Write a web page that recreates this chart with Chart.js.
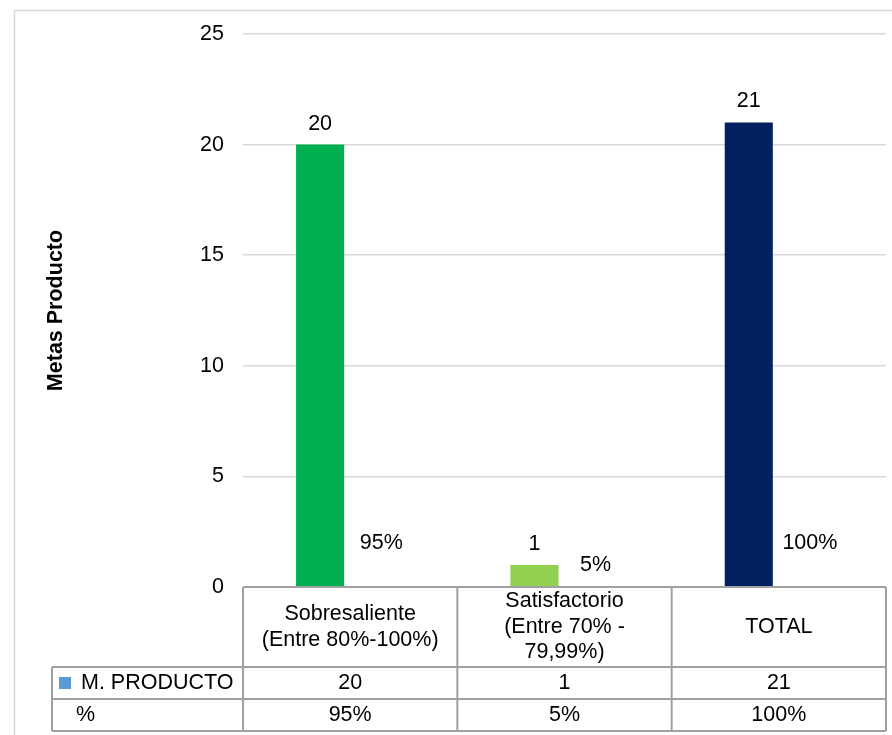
<!DOCTYPE html>
<html>
<head>
<meta charset="utf-8">
<script src="https://cdn.jsdelivr.net/npm/chart.js@4/dist/chart.umd.min.js"></script>
<style>
html,body{margin:0;padding:0;background:#fff;}
#wrap{position:relative;width:892px;height:735px;}
</style>
</head>
<body>
<div id="wrap"><canvas id="c" width="892" height="735"></canvas></div>
<script>
const categories = [["Sobresaliente", "(Entre 80%-100%)"], ["Satisfactorio", "(Entre 70% -", "79,99%)"], ["TOTAL"]];
const counts = [20, 1, 21];
const percents = [0.95, 0.05, 1];
const percentLabels = ["95%", "5%", "100%"];
const barColors = ["#00B050", "#92D050", "#002060"];
const yTicks = [0, 5, 10, 15, 20, 25];
const seriesName = "M. PRODUCTO";
const percentRowName = "%";
const yTitle = "Metas Producto";

const FONT = "Arial, 'Liberation Sans', sans-serif";
const FS = 21.5;
const LINE = "#A0A0A0";

const tablePlugin = {
  id: 'tablePlugin',
  beforeDraw(chart) {
    const ctx = chart.ctx;
    ctx.save();
    ctx.strokeStyle = "#D9D9D9";
    ctx.lineWidth = 1.5;
    ctx.beginPath();
    ctx.moveTo(14.5, 740);
    ctx.lineTo(14.5, 10.5);
    ctx.lineTo(900, 10.5);
    ctx.stroke();
    ctx.restore();
  },
  afterDraw(chart) {
    const ctx = chart.ctx;
    const y = chart.scales.y;
    const area = chart.chartArea;
    const n = categories.length;
    const colW = (area.right - area.left) / n;
    const top = y.getPixelForValue(0);
    const r1 = top + 80, r2 = r1 + 32, r3 = r2 + 32;
    const legLeft = 52;
    ctx.save();
    ctx.fillStyle = "#000";
    ctx.font = FS + "px " + FONT;
    ctx.textAlign = "center";
    ctx.textBaseline = "middle";
    const m0 = chart.getDatasetMeta(0), m1 = chart.getDatasetMeta(1);
    for (let i = 0; i < n; i++) {
      const b = m0.data[i];
      ctx.fillText(String(counts[i]), b.x, b.y - 21);
      const b2 = m1.data[i];
      const ly = Math.max(y.getPixelForValue(counts[i]), y.getPixelForValue(2));
      ctx.fillText(percentLabels[i], b2.x + 1, ly);
    }
    ctx.strokeStyle = LINE;
    ctx.lineWidth = 2;
    ctx.beginPath();
    ctx.moveTo(area.left, top); ctx.lineTo(area.right, top);
    ctx.moveTo(legLeft, r1); ctx.lineTo(area.right, r1);
    ctx.moveTo(legLeft, r2); ctx.lineTo(area.right, r2);
    ctx.moveTo(legLeft, r3); ctx.lineTo(area.right, r3);
    ctx.moveTo(legLeft, r1); ctx.lineTo(legLeft, r3);
    for (let i = 0; i <= n; i++) {
      const xx = area.left + i * colW;
      ctx.moveTo(xx, top); ctx.lineTo(xx, r3);
    }
    ctx.stroke();
    ctx.fillStyle = "#000";
    for (let i = 0; i < n; i++) {
      const cx = area.left + (i + 0.5) * colW;
      const lines = categories[i];
      const lh = 25.5;
      const cy = (top + r1) / 2;
      const start = cy - (lines.length - 1) * lh / 2;
      lines.forEach((t, k) => ctx.fillText(t, cx, start + k * lh));
      ctx.fillText(String(counts[i]), cx, (r1 + r2) / 2);
      ctx.fillText(percentLabels[i], cx, (r2 + r3) / 2);
    }
    ctx.fillStyle = "#5B9BD5";
    ctx.fillRect(59, (r1 + r2) / 2 - 6, 12, 12);
    ctx.fillStyle = "#000";
    ctx.textAlign = "left";
    ctx.fillText(seriesName, 81, (r1 + r2) / 2);
    ctx.fillText(percentRowName, 76, (r2 + r3) / 2);
    ctx.font = "bold " + FS + "px " + FONT;
    ctx.translate(56, (area.top + area.bottom) / 2);
    ctx.rotate(-Math.PI / 2);
    ctx.textAlign = "center";
    ctx.fillText(yTitle, 0, 0);
    ctx.restore();
  }
};

new Chart(document.getElementById('c'), {
  type: 'bar',
  data: {
    labels: categories.map(c => c.join(' ')),
    datasets: [
      { label: seriesName, data: counts, backgroundColor: barColors,
        categoryPercentage: 0.561, barPercentage: 0.8 },
      { label: percentRowName, data: percents, backgroundColor: 'rgba(0,0,0,0)',
        categoryPercentage: 0.561, barPercentage: 0.8 }
    ]
  },
  options: {
    responsive: false,
    animation: false,
    devicePixelRatio: 1,
    layout: { padding: { left: 0, right: 6, top: 34, bottom: 148 } },
    plugins: { legend: { display: false }, tooltip: { enabled: false }, title: { display: false } },
    scales: {
      x: { display: false },
      y: {
        min: 0, max: 25,
        afterFit(s) { s.width = 243; },
        afterBuildTicks(s) { s.ticks = yTicks.map(v => ({ value: v })); },
        border: { display: false },
        grid: { color: "#D9D9D9", lineWidth: 1.5, drawTicks: false },
        ticks: { color: "#000", font: { family: FONT, size: FS }, padding: 19 }
      }
    }
  },
  plugins: [tablePlugin]
});
</script>
</body>
</html>
